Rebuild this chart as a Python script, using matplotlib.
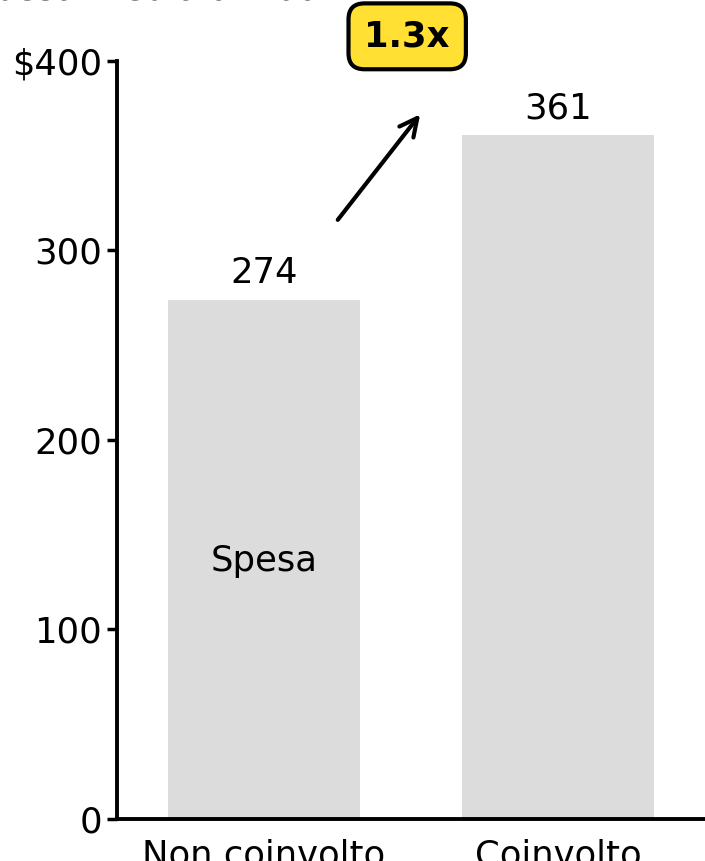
import matplotlib
matplotlib.use("Agg")
import matplotlib.pyplot as plt

# dati
categorie = ["Non coinvolto", "Coinvolto"]
spesa = [274, 361]
tick_y = [0, 100, 200, 300, 400]
tick_y_label = ["0", "100", "200", "300", "$400"]
titolo = "Spesa media annua"
moltiplicatore = "1.3x"

plt.rcParams["font.family"] = ["DejaVu Sans"]
fs = 25.5

fig = plt.figure(figsize=(7.05, 8.61), dpi=100)
ax = fig.add_axes([0.166, 0.0488, 0.834, 0.8804])

x = range(len(categorie))
ax.bar(x, spesa, width=0.653, color="#dcdcdc")

# etichette dei valori
for i, v in zip(x, spesa):
    ax.text(i, v + 5, str(v), ha="center", va="bottom", fontsize=fs)

ax.text(0, 136, "Spesa", ha="center", va="center", fontsize=fs)

# freccia e badge
ax.annotate("", xy=(0.537, 373), xytext=(0.245, 315),
            arrowprops=dict(arrowstyle="->", lw=3, color="black",
                            mutation_scale=32))
ax.text(0.487, 413, moltiplicatore, ha="center", va="center", fontsize=fs,
        fontweight="bold", clip_on=False,
        bbox=dict(boxstyle="round,pad=0.45,rounding_size=0.45",
                  fc="#ffe033", ec="black", lw=3))

# assi
ax.set_xlim(-0.5, 1.5)
ax.set_ylim(0, 400)
ax.set_yticks(tick_y)
ax.set_yticklabels(tick_y_label)
ax.set_xticks(list(x))
ax.set_xticklabels(categorie)
ax.tick_params(axis="y", length=7, width=2.5, labelsize=fs, pad=4)
ax.tick_params(axis="x", length=0, labelsize=fs, pad=14)
for s in ["top", "right"]:
    ax.spines[s].set_visible(False)
ax.spines["left"].set_linewidth(2.8)
ax.spines["bottom"].set_linewidth(2.8)

# titolo tagliato in alto
fig.text(-0.043, 1.0, titolo, ha="left", va="baseline", fontsize=fs)

fig.savefig("out.png", dpi=100)
